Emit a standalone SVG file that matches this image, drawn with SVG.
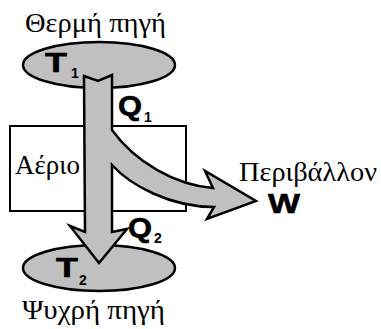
<svg xmlns="http://www.w3.org/2000/svg" width="381" height="329" viewBox="0 0 381 329">
<style>
.src{fill:#c0c0c0;stroke:#000;stroke-width:2.5}
.box{fill:#fff;stroke:#000;stroke-width:2}
.flow{fill:#c0c0c0;stroke:#000;stroke-width:2.5;stroke-linejoin:miter}
.gr{font-family:"Liberation Serif","DejaVu Serif",serif;font-size:27px;fill:#000}
.sym{font-family:"Liberation Sans",Arial,sans-serif;font-weight:bold;font-size:28px;fill:#000;stroke:#000;stroke-width:0.6}
.sub{font-family:"Liberation Sans",Arial,sans-serif;font-weight:bold;font-size:14px;fill:#000}
</style>
<rect width="381" height="329" fill="#fff"/>
<g id="hot">
<ellipse class="src" cx="99" cy="65" rx="76" ry="23"/>
<text class="gr" x="25" y="32" textLength="141" lengthAdjust="spacingAndGlyphs">Θερμή πηγή</text>
<text class="sym" x="45" y="72" textLength="22" lengthAdjust="spacingAndGlyphs">T</text><text class="sub" x="71" y="78">1</text>
</g>
<g id="cold">
<ellipse class="src" cx="99" cy="268" rx="76" ry="23"/>
<text class="gr" x="22" y="319" textLength="143" lengthAdjust="spacingAndGlyphs">Ψυχρή πηγή</text>
<text class="sym" x="56" y="277" textLength="22" lengthAdjust="spacingAndGlyphs">T</text><text class="sub" x="79" y="285">2</text>
</g>
<g id="gas">
<rect class="box" x="10" y="126" width="176" height="85"/>
<text class="gr" x="15" y="174" textLength="65" lengthAdjust="spacingAndGlyphs">Αέριο</text>
</g>
<g id="connectors">
<path class="flow" d="M84,76 L98,81 L112,75 L112,130 C135,162 175,185 213,188 L205,171 L256,201 L207,219 L214,207 C170,207 130,185 112,165 L112,232 L127,229 L99,263 L70,226 L85,232 Z"/>
<text class="sym" x="118" y="115" textLength="24" lengthAdjust="spacingAndGlyphs">Q</text><text class="sub" x="144" y="122">1</text>
<text class="sym" x="128" y="237" textLength="24" lengthAdjust="spacingAndGlyphs">Q</text><text class="sub" x="154" y="243">2</text>
</g>
<g id="env">
<text class="gr" x="239" y="181" textLength="138" lengthAdjust="spacingAndGlyphs">Περιβάλλον</text>
<text class="sym" x="268" y="213" textLength="32" lengthAdjust="spacingAndGlyphs">W</text>
</g>
</svg>
